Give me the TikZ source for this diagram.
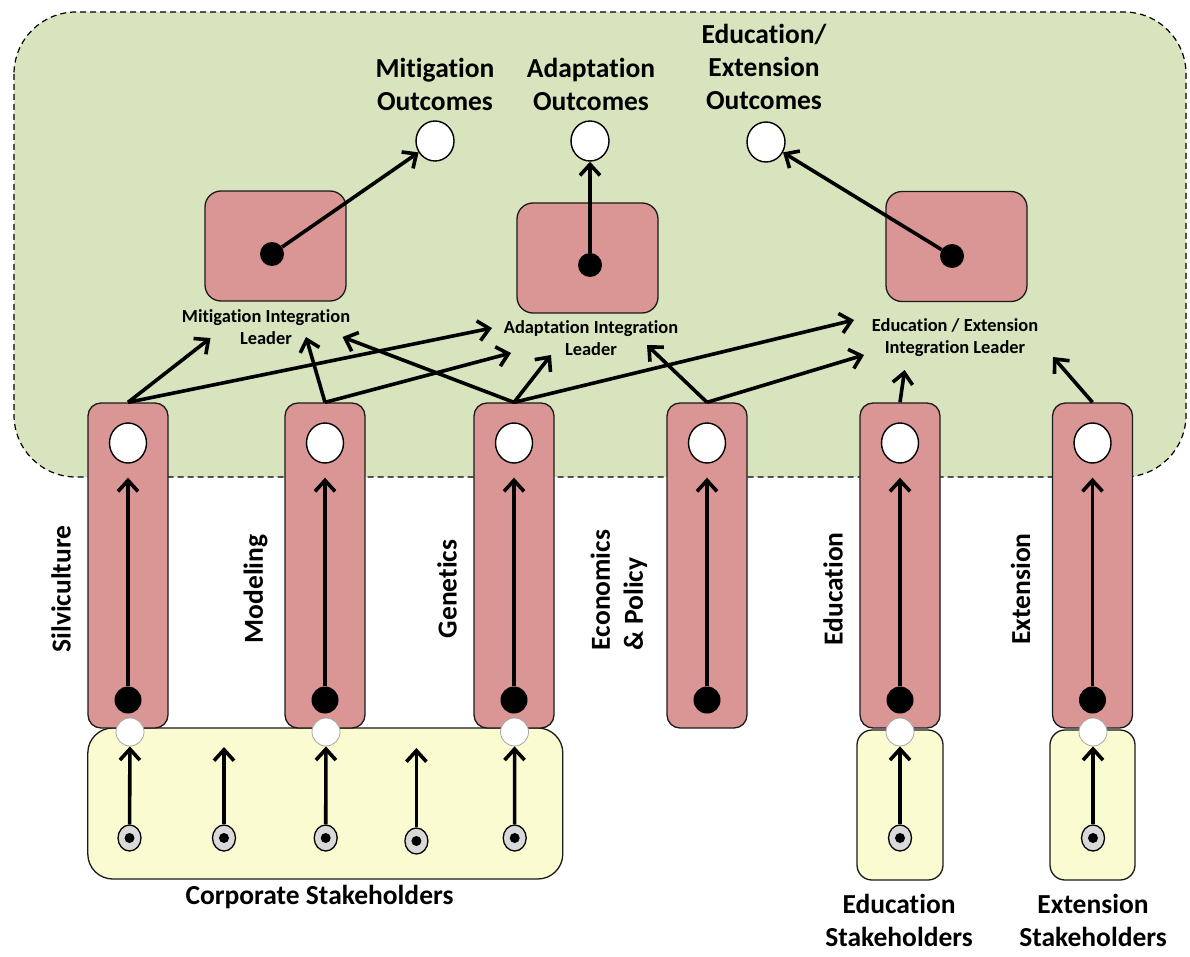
\documentclass[tikz,border=0pt]{standalone}
\usepackage{fontspec}
\setmainfont{Carlito}[Ligatures={TeX,NoCommon}]
\usetikzlibrary{arrows.meta,shapes.geometric}
\definecolor{zoneGreen}{HTML}{D7E4BD}
\definecolor{leadRed}{HTML}{D99694}
\definecolor{stakeYellow}{HTML}{FAFBD0}
\definecolor{tokenGray}{HTML}{D9D9D9}
\definecolor{lineDark}{HTML}{1A1A1A}

\begin{document}
\begin{tikzpicture}[x=1pt,y=-1pt,
  bigtxt/.style={font=\bfseries\fontsize{27.5}{33}\selectfont, align=center, inner sep=0pt},
  smalltxt/.style={font=\bfseries\fontsize{18.4}{22}\selectfont, align=center, inner sep=0pt},
  column/.style={draw=lineDark, line width=1.3pt, fill=leadRed, rounded corners=13pt,
    minimum width=80pt, minimum height=325pt, inner sep=0pt},
  leadbox/.style={draw=lineDark, line width=1.3pt, fill=leadRed, rounded corners=16pt,
    minimum width=141pt, minimum height=110pt, inner sep=0pt},
  stakebox/.style={draw=lineDark, line width=1.3pt, fill=stakeYellow, inner sep=0pt},
  outcome/.style={ellipse, draw=black, line width=1.4pt, fill=white,
    minimum width=38pt, minimum height=40pt, inner sep=0pt},
  hub/.style={ellipse, draw=black, line width=1.4pt, fill=white,
    minimum width=37pt, minimum height=40pt, inner sep=0pt},
  blackdot/.style={circle, fill=black, minimum size=27pt, inner sep=0pt},
  leaderdot/.style={circle, fill=black, minimum size=24pt, inner sep=0pt},
  joint/.style={circle, draw=gray!70, line width=0.8pt, fill=white, minimum size=28pt, inner sep=0pt},
  stoken/.style={ellipse, draw=black, line width=1.3pt, fill=tokenGray,
    minimum width=23pt, minimum height=26pt, inner sep=0pt,
    path picture={\fill[black] (path picture bounding box.center) circle (5pt);}},
  arr/.style={line width=3.6pt, -{Straight Barb[length=11pt,width=20pt]}},
]
\useasboundingbox (0,0) rectangle (1190,957);

% dashed integration zone
\draw[line width=1.2pt, dash pattern=on 6pt off 4pt, fill=zoneGreen, rounded corners=62pt]
  (14,12) rectangle (1186,477);

% stakeholder groups
\node[stakebox, rounded corners=25pt, minimum width=475pt, minimum height=151pt] (corp) at (325.3,803.5) {};
\node[stakebox, rounded corners=15pt, minimum width=86pt, minimum height=150pt] (eduStake) at (900,805) {};
\node[stakebox, rounded corners=15pt, minimum width=85pt, minimum height=150pt] (extStake) at (1092.5,805) {};

% discipline columns
\node[column] (silv) at (128,565.5) {};
\node[column] (mod)  at (325,565.5) {};
\node[column] (gen)  at (514,565.5) {};
\node[column] (eco)  at (707,565.5) {};
\node[column] (edu)  at (900,565.5) {};
\node[column] (ext)  at (1092.5,565.5) {};

\foreach \n/\x in {silv/128,mod/325,gen/514,eco/707,edu/900,ext/1092.5}{
  \node[hub] (\n Hub) at (\x,443) {};
  \node[blackdot] (\n Dot) at (\x,700) {};
}
\draw[arr, shorten >=14pt] (silvDot) -- (silvHub);
\draw[arr, shorten >=14pt] (modDot) -- (modHub);
\draw[arr, shorten >=14pt] (genDot) -- (genHub);
\draw[arr, shorten >=14pt] (ecoDot) -- (ecoHub);
\draw[arr, shorten >=14pt] (eduDot) -- (eduHub);
\draw[arr, shorten >=14pt] (extDot) -- (extHub);

% joints between stakeholders and columns
\node[joint] (silvJoint) at (130,732) {};
\node[joint] (modJoint)  at (326,732) {};
\node[joint] (genJoint)  at (514.5,732) {};
\node[joint] (eduJoint)  at (900,732) {};
\node[joint] (extJoint)  at (1093,732) {};

% stakeholder tokens
\node[stoken] (tokA) at (129.5,838) {};
\node[stoken] (tokB) at (224,838) {};
\node[stoken] (tokC) at (325.7,838) {};
\node[stoken] (tokD) at (416.4,841) {};
\node[stoken] (tokE) at (514.7,838) {};
\node[stoken] (tokF) at (900,838) {};
\node[stoken] (tokG) at (1093,838) {};
\coordinate (freeB) at (224,747);
\coordinate (freeD) at (416.4,748);

\draw[arr] (tokA) -- (silvJoint);
\draw[arr] (tokB) -- (freeB);
\draw[arr] (tokC) -- (modJoint);
\draw[arr] (tokD) -- (freeD);
\draw[arr] (tokE) -- (genJoint);
\draw[arr] (tokF) -- (eduJoint);
\draw[arr] (tokG) -- (extJoint);

% integration leaders
\node[leadbox] (mitBox) at (275.5,246) {};
\node[leadbox] (adaBox) at (587.5,258) {};
\node[leadbox] (eeBox)  at (956.5,246.5) {};
\node[leaderdot] (mitDot) at (272,254) {};
\node[leaderdot] (adaDot) at (590,265) {};
\node[leaderdot] (eeDot)  at (952,256) {};

% outcomes
\node[outcome] (mitOut) at (435,141) {};
\node[outcome] (adaOut) at (590,141) {};
\node[outcome] (eeOut)  at (766,142) {};
\node[bigtxt] (mitOutLbl) at (435,84) {Mitigation\\Outcomes};
\node[bigtxt] (adaOutLbl) at (591,84) {Adaptation\\Outcomes};
\node[bigtxt] (eeOutLbl)  at (764,67) {Education/\\Extension\\Outcomes};

\draw[arr] (mitDot) -- (mitOut);
\draw[arr] (adaDot) -- (adaOut);
\draw[arr] (eeDot) -- (eeOut);

% leader labels
\node[smalltxt] (mitLbl) at (266,327) {Mitigation Integration\\Leader};
\node[smalltxt] (adaLbl) at (591,338) {Adaptation Integration\\Leader};
\node[smalltxt] (eeLbl)  at (955,338) {Education / Extension\\Integration Leader};

% arrow ends around the leader labels
\coordinate (silvToMit) at (210.5,338);
\coordinate (silvToAda) at (492,328);
\coordinate (modToMit)  at (306,337);
\coordinate (modToAda)  at (511,353);
\coordinate (genToMit)  at (342.5,337);
\coordinate (genToAda)  at (551,355);
\coordinate (genToEe)   at (854,320);
\coordinate (ecoToAda)  at (647,345);
\coordinate (ecoToEe)   at (864,355);
\coordinate (eduToEe)   at (904.6,370);
\coordinate (extToEe)   at (1053,357);

\draw[arr] (silv.north) -- (silvToMit);
\draw[arr] (silv.north) -- (silvToAda);
\draw[arr] (mod.north) -- (modToMit);
\draw[arr] (mod.north) -- (modToAda);
\draw[arr] (gen.north) -- (genToMit);
\draw[arr] (gen.north) -- (genToAda);
\draw[arr] (gen.north) -- (genToEe);
\draw[arr] (eco.north) -- (ecoToAda);
\draw[arr] (eco.north) -- (ecoToEe);
\draw[arr] (edu.north) -- (eduToEe);
\draw[arr] (ext.north) -- (extToEe);

% discipline names
\node[bigtxt, rotate=90] (silvLbl) at (61,589) {Silviculture};
\node[bigtxt, rotate=90] (modLbl)  at (255.6,589) {Modeling};
\node[bigtxt, rotate=90] (genLbl)  at (447,589) {Genetics};
\node[bigtxt, rotate=90, align=left] (ecoLbl) at (619,590) {Economics\\\& Policy};
\node[bigtxt, rotate=90] (eduLbl)  at (833,589) {Education};
\node[bigtxt, rotate=90] (extLbl)  at (1020.5,589) {Extension};

% stakeholder names
\node[bigtxt] (corpLbl) at (319.5,897) {Corporate Stakeholders};
\node[bigtxt] (eduStakeLbl) at (899,920) {Education\\Stakeholders};
\node[bigtxt] (extStakeLbl) at (1093,920) {Extension\\Stakeholders};
\end{tikzpicture}
\end{document}
